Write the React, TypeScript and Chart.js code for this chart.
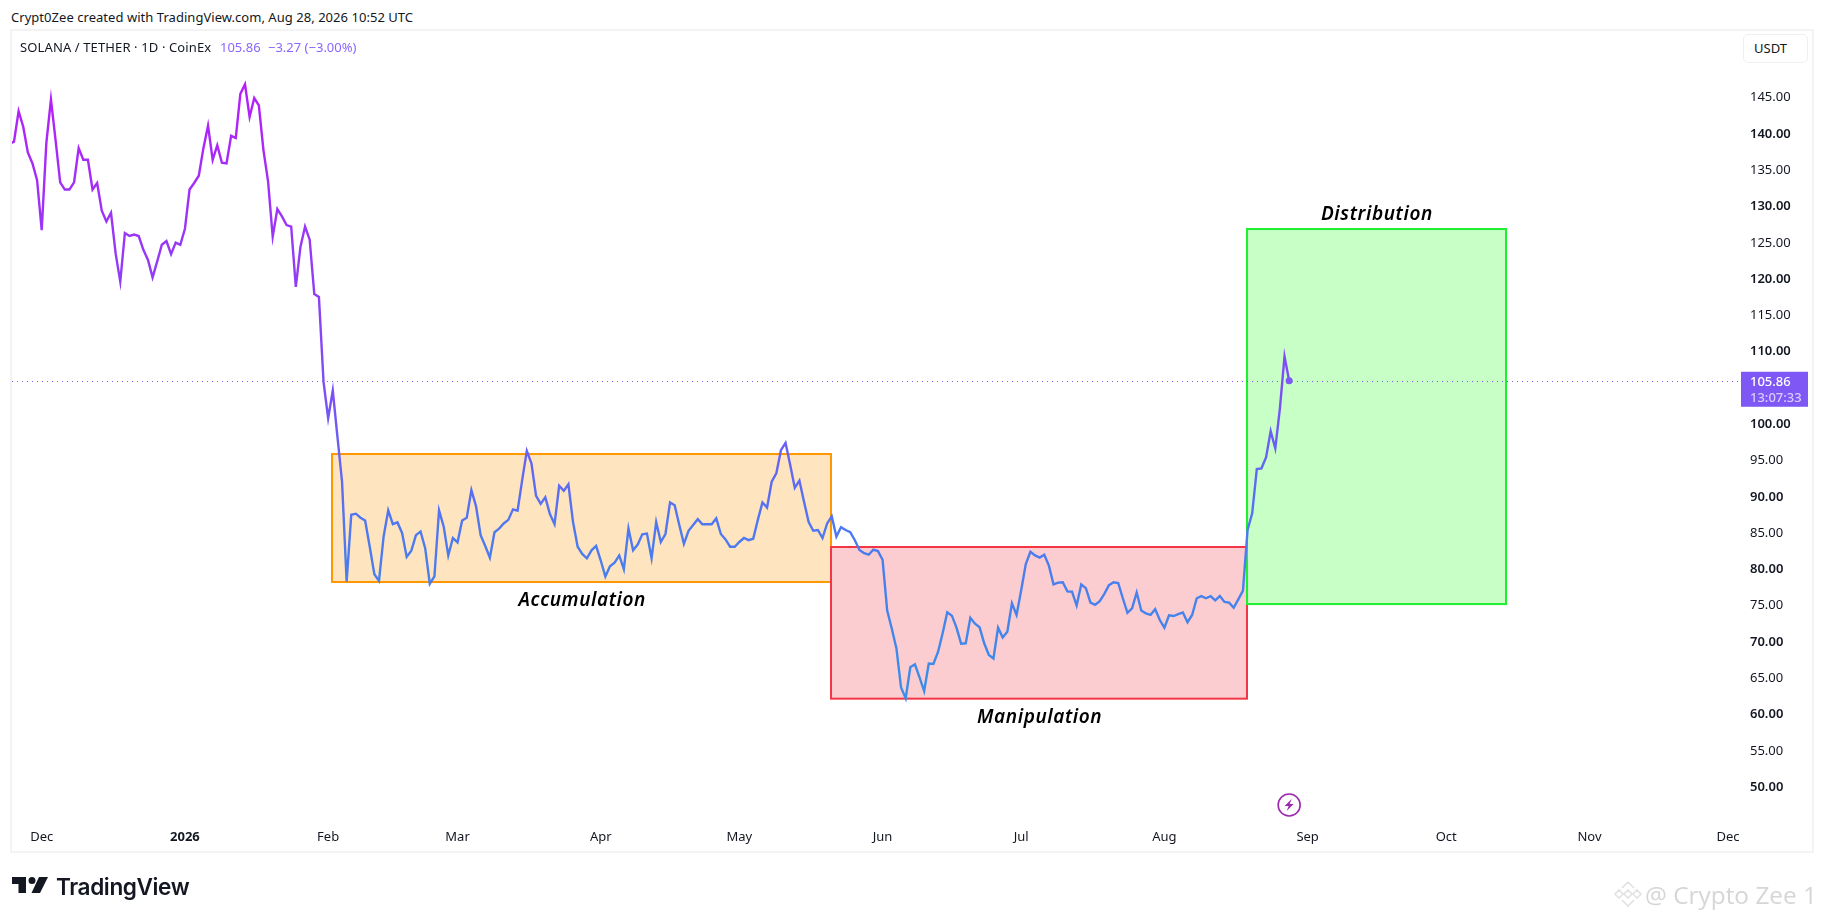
import React, { useEffect, useRef } from "react";
import { Chart, registerables } from "chart.js";

Chart.register(...registerables);

// day number = days since 1 Dec 2025. First sample is 24 Nov 2025.
const firstDay = -7;
const prices = [
  138.5, 138.8, 143.0, 140.85, 137.3, 135.8, 133.5, 126.6, 138.6, 144.6, 139.0, 133.2, 132.2, 132.2, 133.2, 137.9,
  136.3, 136.3, 132.2, 133.1, 129.3, 127.8, 129.0, 123.4, 119.5, 126.2, 125.8, 126.0, 125.8, 123.9, 122.5, 120.1,
  122.3, 124.6, 125.1, 123.3, 124.9, 124.6, 126.8, 132.2, 133.1, 134.1, 137.9, 141.0, 136.3, 138.3, 135.9, 135.8,
  139.6, 139.3, 145.4, 146.7, 142.2, 144.8, 143.8, 137.6, 133.3, 125.7, 129.5, 128.5, 127.3, 127.1, 118.8, 124.3,
  127.1, 125.3, 117.8, 117.4, 105.7, 100.7, 104.5, 98.2, 92.0, 78.2, 87.4, 87.55, 87.0, 86.6, 83.0, 79.2,
  78.3, 84.4, 88.0, 86.1, 86.35, 84.9, 81.6, 82.45, 84.6, 85.1, 82.8, 77.9, 78.9, 88.0, 85.8, 81.8,
  84.2, 83.6, 86.6, 87.0, 90.8, 88.6, 84.6, 83.1, 81.5, 85.0, 85.5, 86.2, 86.7, 88.15, 87.97, 92.2,
  96.2, 94.5, 90.0, 88.9, 89.8, 87.5, 86.1, 91.4, 90.7, 91.6, 86.4, 83.0, 82.0, 81.4, 82.5, 83.1,
  81.1, 78.9, 80.3, 80.8, 81.8, 79.9, 85.5, 82.5, 83.3, 84.7, 84.8, 81.4, 86.4, 83.65, 84.75, 89.1,
  88.7, 86.0, 83.4, 85.2, 86.0, 86.8, 86.1, 86.1, 86.1, 86.9, 84.75, 84.0, 83.0, 83.0, 83.65, 84.2,
  83.9, 84.1, 86.7, 89.1, 88.4, 91.96, 93.1, 96.3, 97.3, 94.3, 91.1, 92.1, 89.2, 86.4, 85.2, 85.3,
  84.2, 86.2, 87.2, 84.4, 85.7, 85.3, 85.0, 83.9, 82.55, 82.1, 81.9, 82.6, 82.4, 81.2, 74.2, 71.7,
  69.0, 63.6, 62.1, 66.4, 66.8, 65.0, 63.1, 66.9, 66.85, 68.5, 71.07, 73.96, 73.5, 71.85, 69.65, 69.7,
  73.2, 72.4, 71.9, 69.7, 68.1, 67.6, 71.85, 70.5, 71.3, 75.2, 73.6, 77.0, 80.6, 82.3, 81.8, 81.5,
  81.9, 80.4, 77.8, 78.05, 78.1, 76.85, 76.8, 74.9, 77.8, 77.3, 75.3, 75.0, 75.5, 76.5, 77.7, 78.1,
  78.0, 75.9, 73.9, 74.5, 76.7, 74.2, 73.8, 73.6, 74.4, 72.9, 71.85, 73.55, 73.45, 73.7, 73.95, 72.6,
  73.6, 75.9, 76.2, 75.9, 76.2, 75.6, 76.2, 75.4, 75.3, 74.6, 75.75, 76.95, 85.3, 87.6, 93.7, 93.8,
  95.3, 98.9, 96.55, 102.06, 109.2, 105.86,
];

const monthDays = [0, 31, 62, 90, 121, 151, 182, 212, 243, 274, 304, 335, 365];
const monthLabels = ["Dec", "2026", "Feb", "Mar", "Apr", "May", "Jun", "Jul", "Aug", "Sep", "Oct", "Nov", "Dec"];
const priceTicks = [50, 55, 60, 65, 70, 75, 80, 85, 90, 95, 100, 105, 110, 115, 120, 125, 130, 135, 140, 145];

const boxNames = ["Accumulation", "Manipulation", "Distribution"];
const boxStartDays = [63, 171, 261];
const boxEndDays = [171, 261, 317];
const boxTops = [95.77, 82.96, 126.76];
const boxBottoms = [78.14, 62.07, 75.1];
const boxFills = ["rgba(255,152,0,0.25)", "rgba(242,54,69,0.25)", "rgba(30,255,30,0.25)"];
const boxStrokes = ["#ff9800", "#f23645", "#20ee30"];

const lastPriceText = "105.86";
const countdownText = "13:07:33";
const accent = "#7e57f5";
const UI_FONT = '"Noto Sans", sans-serif';

const overlays = {
  id: "overlays",
  beforeDatasetsDraw(chart: any) {
    const { ctx, scales } = chart;
    const { x, y } = scales;
    ctx.save();
    boxNames.forEach((_, i) => {
      const l = Math.floor(x.getPixelForValue(boxStartDays[i]));
      const r = Math.floor(x.getPixelForValue(boxEndDays[i]));
      const t = y.getPixelForValue(boxTops[i]);
      const b = y.getPixelForValue(boxBottoms[i]);
      ctx.fillStyle = boxFills[i];
      ctx.fillRect(l, t, r - l, b - t);
      ctx.strokeStyle = boxStrokes[i];
      ctx.lineWidth = 2;
      ctx.strokeRect(l, t, r - l, b - t);
    });
    // last price dotted line
    const py = y.getPixelForValue(prices[prices.length - 1]);
    ctx.strokeStyle = accent;
    ctx.lineWidth = 1;
    ctx.setLineDash([1, 4]);
    ctx.beginPath();
    ctx.moveTo(chart.chartArea.left, Math.round(py) + 0.5);
    ctx.lineTo(chart.chartArea.right - 2, Math.round(py) + 0.5);
    ctx.stroke();
    ctx.restore();
  },
  afterDraw(chart: any) {
    const { ctx, scales } = chart;
    const { x, y } = scales;
    ctx.save();
    // box captions
    ctx.fillStyle = "#000";
    ctx.textAlign = "center";
    ctx.textBaseline = "middle";
    ctx.font = `italic 600 19px ${UI_FONT}`;
    (ctx as any).letterSpacing = "0.6px";
    boxNames.forEach((name, i) => {
      const cx = (x.getPixelForValue(boxStartDays[i]) + x.getPixelForValue(boxEndDays[i])) / 2;
      const cy = i === 2 ? y.getPixelForValue(boxTops[i]) - 14.5 : y.getPixelForValue(boxBottoms[i]) + 19;
      ctx.fillText(name, cx, cy);
    });
    (ctx as any).letterSpacing = "0px";
    // price pill
    const py = y.getPixelForValue(prices[prices.length - 1]);
    const pl = chart.chartArea.right;
    ctx.fillStyle = accent;
    ctx.fillRect(pl, py - 9, 67, 35);
    ctx.textAlign = "left";
    ctx.font = `500 13px ${UI_FONT}`;
    ctx.fillStyle = "#ffffff";
    ctx.fillText(lastPriceText, pl + 9, py + 2);
    ctx.fillStyle = "#d8ccff";
    ctx.fillText(countdownText, pl + 9, py + 18);
    // lightning marker under the last bar
    const mx = x.getPixelForValue(firstDay + prices.length - 1);
    const my = 805;
    ctx.strokeStyle = "#9c27b0";
    ctx.lineWidth = 1.6;
    ctx.beginPath();
    ctx.arc(mx, my, 11, 0, Math.PI * 2);
    ctx.stroke();
    ctx.fillStyle = "#9c27b0";
    ctx.beginPath();
    ctx.moveTo(mx + 2.5, my - 6);
    ctx.lineTo(mx - 4.5, my + 1);
    ctx.lineTo(mx - 0.5, my + 1);
    ctx.lineTo(mx - 2.5, my + 6);
    ctx.lineTo(mx + 4.5, my - 1);
    ctx.lineTo(mx + 0.5, my - 1);
    ctx.closePath();
    ctx.fill();
    ctx.restore();
  },
};

export default function App() {
  const ref = useRef<HTMLCanvasElement | null>(null);
  useEffect(() => {
    if (!ref.current) return;
    const last = prices.length - 1;
    const chart = new Chart(ref.current, {
      type: "line",
      data: {
        datasets: [
          {
            data: prices.map((p, i) => ({ x: firstDay + i, y: p })),
            borderWidth: 2.4,
            tension: 0,
            borderColor: (c: any) => {
              const { chart: ch } = c;
              if (!ch.chartArea) return accent;
              const g = ch.ctx.createLinearGradient(0, ch.scales.y.getPixelForValue(146.7), 0, ch.scales.y.getPixelForValue(62));
              g.addColorStop(0, "#b51ef8");
              g.addColorStop(0.5, "#7c4ff5");
              g.addColorStop(0.72, "#4f78f0");
              g.addColorStop(1, "#3a8fe8");
              return g;
            },
            pointRadius: (c: any) => (c.dataIndex === last ? 3.5 : 0),
            pointBackgroundColor: accent,
            pointBorderWidth: 0,
          },
        ],
      },
      options: {
        animation: false,
        responsive: false,
        devicePixelRatio: 1,
        events: [],
        layout: { padding: { left: 12, top: 31, right: 0, bottom: 0 } },
        plugins: { legend: { display: false }, title: { display: false }, tooltip: { enabled: false } },
        scales: {
          x: {
            type: "linear",
            min: -6.43,
            max: 367.8,
            grid: { display: false, drawTicks: false },
            border: { display: false },
            afterFit: (s: any) => {
              s.height = 98;
            },
            afterBuildTicks: (s: any) => {
              s.ticks = monthDays.map((v) => ({ value: v }));
            },
            ticks: {
              autoSkip: false,
              maxRotation: 0,
              padding: 7,
              color: "#131722",
              font: (c: any) => ({
                family: UI_FONT,
                size: 13,
                weight: c.tick && monthLabels[monthDays.indexOf(c.tick.value)] === "2026" ? "700" : "400",
              }),
              callback: (v: any) => monthLabels[monthDays.indexOf(v)] ?? "",
            },
          },
          y: {
            type: "linear",
            position: "right",
            min: 45.08,
            max: 154.04,
            grid: { display: false, drawTicks: false },
            border: { display: false },
            afterFit: (s: any) => {
              s.width = 83;
            },
            afterBuildTicks: (s: any) => {
              s.ticks = priceTicks.map((v) => ({ value: v }));
            },
            ticks: {
              autoSkip: false,
              padding: 9,
              labelOffset: 1,
              color: "#131722",
              font: (c: any) => ({
                family: UI_FONT,
                size: 13,
                weight: c.tick && c.tick.value % 10 === 0 ? "600" : "400",
              }),
              callback: (v: any) => (v === 105 ? "" : Number(v).toFixed(2)),
            },
          },
        },
      },
      plugins: [overlays],
    } as any);
    return () => chart.destroy();
  }, []);

  const abs = (s: React.CSSProperties): React.CSSProperties => ({ position: "absolute", whiteSpace: "nowrap", ...s });
  return (
    <div style={{ position: "relative", width: 1824, height: 920, overflow: "hidden", background: "#fff", fontFamily: UI_FONT }}>
      <style>{`html,body{margin:0;padding:0;overflow:hidden;background:#fff}`}</style>
      <div style={abs({ left: 11, top: 8, fontSize: 13, lineHeight: "18px", letterSpacing: "0.04px", color: "#131722" })}>
        Crypt0Zee created with TradingView.com, Aug 28, 2026 10:52 UTC
      </div>
      <div style={abs({ left: 10, top: 29, width: 1804, height: 824, boxSizing: "border-box", border: "2px solid #f3f3f4" })} />
      <canvas ref={ref} width={1824} height={920} style={{ position: "absolute", left: 0, top: 0, width: 1824, height: 920 }} />
      <div style={abs({ left: 20, top: 38, fontSize: 13, lineHeight: "18px", letterSpacing: "0.12px", color: "#131722" })}>
        SOLANA / TETHER · 1D · CoinEx
      </div>
      <div style={abs({ left: 220, top: 38, fontSize: 13, lineHeight: "18px", color: "#8a66ff" })}>105.86</div>
      <div style={abs({ left: 268, top: 38, fontSize: 13, lineHeight: "18px", color: "#8a66ff" })}>−3.27 (−3.00%)</div>
      <div
        style={abs({
          left: 1743,
          top: 34,
          width: 65,
          height: 29,
          boxSizing: "border-box",
          border: "1px solid #eeeff2",
          borderRadius: 5,
          fontSize: 13,
          lineHeight: "27px",
          paddingLeft: 10,
          color: "#131722",
          background: "#fff",
        })}
      >
        USDT
      </div>
      <svg style={abs({ left: 12, top: 875 })} width="36" height="20" viewBox="0 0 36 20">
        <path d="M14 2H0v7h6.5v9H14V2Zm14 16h-8.5L27 2h9l-8 16Zm-8-9a3.5 3.5 0 1 0 0-7 3.5 3.5 0 0 0 0 7Z" fill="#131722" />
      </svg>
      <div style={abs({ left: 56, top: 870, fontFamily: "Inter, sans-serif", fontSize: 22.6, fontWeight: 600, letterSpacing: "-0.4px", lineHeight: "34px", color: "#131722" })}>
        TradingView
      </div>
      <svg style={abs({ left: 1613, top: 880 })} width="30" height="28" viewBox="0 0 30 28" fill="none" stroke="#e2e2e2" strokeWidth="1.6">
        <path d="M15 2l6 6M15 2L9 8M2 14l4-4 4 4-4 4zM20 14l4-4 4 4-4 4zM15 10l4 4-4 4-4-4zM9 20l6 6 6-6" />
      </svg>
      <div style={abs({ left: 1645, top: 877, fontFamily: '"Open Sans", sans-serif', fontSize: 24.4, lineHeight: "36px", color: "#d6d6d6" })}>
        @ Crypto Zee 1
      </div>
    </div>
  );
}
